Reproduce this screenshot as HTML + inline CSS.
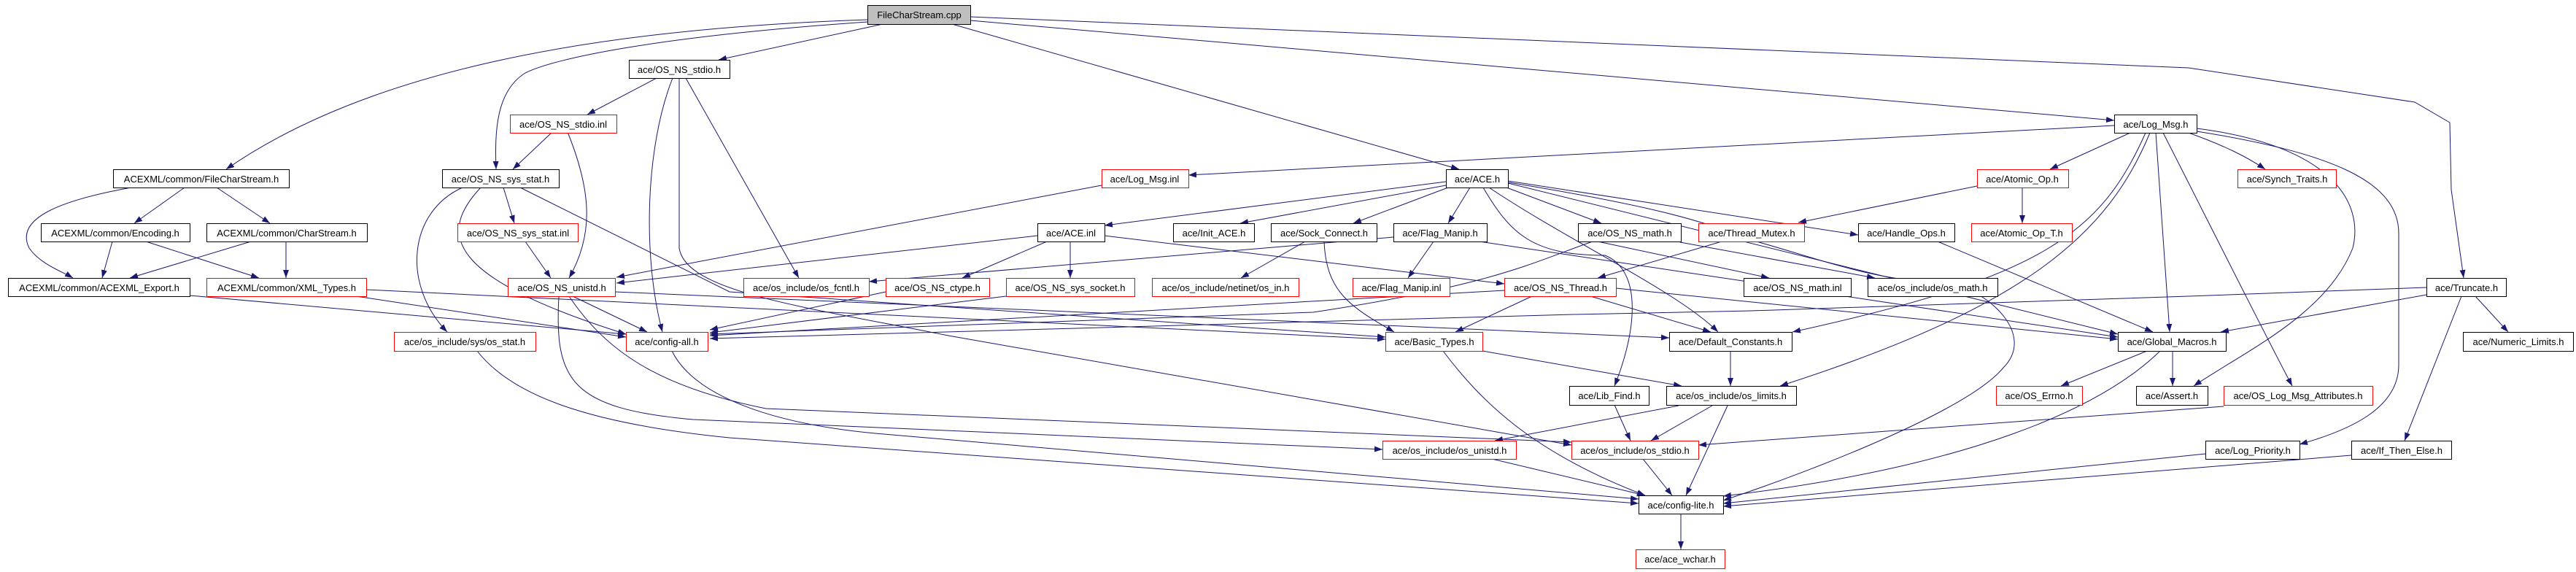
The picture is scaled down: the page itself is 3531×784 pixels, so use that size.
<!DOCTYPE html>
<html><head><meta charset="utf-8"><style>
html,body{margin:0;padding:0;background:#fff;}
svg{display:block;}
text{font-family:"Liberation Sans",sans-serif;font-size:13px;fill:#000;}
</style></head><body>
<svg width="3531" height="784" viewBox="0 0 3531 784" xmlns="http://www.w3.org/2000/svg">
<defs>
<marker id="a" markerUnits="userSpaceOnUse" markerWidth="12" markerHeight="10" refX="11" refY="4" orient="auto">
<path d="M0,0 L11,4 L0,8 z" fill="#191970"/>
</marker>
</defs>
<g fill="none" stroke="#191970" stroke-width="1" marker-end="url(#a)">
<path d="M1189,27 C800,40 500,100 310,232"/>
<path d="M1189,30 C900,50 760,80 720,100 C680,125 678,180 680,232"/>
<path d="M1210,33 L985,82"/>
<path d="M1305,33 L2000,232"/>
<path d="M1330,28 L2898,165"/>
<path d="M1330,23 L3000,93 L3310,140 L3358,168 L3360,260 L3377,381"/>
<path d="M180,257 C80,275 20,300 40,340 C55,362 85,372 100,381"/>
<path d="M253,257 L184,306"/>
<path d="M297,257 L370,306"/>
<path d="M154,331 L140,381"/>
<path d="M200,331 L355,381"/>
<path d="M344,331 L178,381"/>
<path d="M392,331 L392,381"/>
<path d="M502,397 L1899,465"/>
<path d="M260,405 L858,458"/>
<path d="M488,406 L858,462"/>
<path d="M900,107 L805,157"/>
<path d="M922,107 C885,200 880,350 908,455"/>
<path d="M931,107 L931,340 C940,400 1100,420 1300,460 L2154,610"/>
<path d="M940,107 L1095,381"/>
<path d="M757,181 L703,232"/>
<path d="M778,181 C810,260 815,320 780,381"/>
<path d="M690,257 L705,306"/>
<path d="M634,257 C560,290 550,390 613,455"/>
<path d="M659,257 C600,320 610,380 858,458"/>
<path d="M713,257 L1000,400 L1899,462"/>
<path d="M720,331 L755,381"/>
<path d="M1510,254 L845,380"/>
<path d="M1422,323 L845,388"/>
<path d="M785,406 L887,455"/>
<path d="M766,406 C760,520 780,560 950,575 L1895,616"/>
<path d="M780,406 C830,480 900,530 1050,560 L2154,606"/>
<path d="M843,400 L2288,463"/>
<path d="M654,481 C700,540 800,580 1000,600 L2246,690"/>
<path d="M921,481 C950,540 1050,580 1200,594 L2246,684"/>
<path d="M1214,400 L973,452"/>
<path d="M1379,406 L973,456"/>
<path d="M2062,398 L973,460"/>
<path d="M2183,331 C2100,360 2050,390 1800,428 L973,458"/>
<path d="M3326,394 L3000,406 L2400,426 L2156,431 L973,464"/>
<path d="M1982,249 L1514,309"/>
<path d="M1982,254 L1700,306"/>
<path d="M1985,257 L1855,306"/>
<path d="M2015,257 L1985,306"/>
<path d="M2065,257 L2195,306"/>
<path d="M2067,248 L2547,322"/>
<path d="M2067,251 L2903,458"/>
<path d="M2033,257 C2070,320 2100,350 2200,350 C2250,370 2245,450 2213,529"/>
<path d="M2041,257 C2150,330 2300,400 2355,455"/>
<path d="M2068,250 C2250,280 2330,300 2400,329 C2480,350 2580,390 2668,386 C2730,400 2790,460 2746,504 C2700,560 2500,640 2362,686"/>
<path d="M2898,172 L1629,240"/>
<path d="M2920,182 L2810,232"/>
<path d="M3000,182 C3050,200 3080,215 3105,232"/>
<path d="M2955,182 L2974,455"/>
<path d="M2947,182 C2890,320 2780,420 2440,529"/>
<path d="M2941,182 C2880,320 2800,380 2457,455"/>
<path d="M2965,182 C3000,250 3100,450 3142,529"/>
<path d="M3011,176 C3200,200 3240,280 3225,340 C3190,430 3080,480 3007,529"/>
<path d="M3011,180 C3200,210 3288,250 3288,320 L3288,500 C3288,560 3220,590 3152,609"/>
<path d="M2710,255 L2465,305"/>
<path d="M2772,257 L2772,306"/>
<path d="M2360,331 L2190,381"/>
<path d="M1965,331 L1930,381"/>
<path d="M1910,325 L1191,386"/>
<path d="M2028,331 L2903,462"/>
<path d="M1514,323 L2062,389"/>
<path d="M1435,331 L1319,381"/>
<path d="M1467,331 L1467,381"/>
<path d="M1789,331 L1701,381"/>
<path d="M1815,331 C1818,400 1850,420 1911,455"/>
<path d="M2190,331 L2425,381"/>
<path d="M2303,332 L2570,381"/>
<path d="M2656,331 L2951,455"/>
<path d="M2100,406 L1995,455"/>
<path d="M2180,406 L2345,455"/>
<path d="M2215,395 L2903,465"/>
<path d="M3326,404 L3044,455"/>
<path d="M3393,406 L3438,455"/>
<path d="M3374,406 L3296,604"/>
<path d="M1978,481 C2030,550 2100,620 2255,679"/>
<path d="M2032,481 L2305,529"/>
<path d="M2372,481 L2372,529"/>
<path d="M2301,556 L2049,604"/>
<path d="M2347,556 L2263,604"/>
<path d="M2368,556 L2311,679"/>
<path d="M2213,555 L2235,604"/>
<path d="M2252,629 L2292,679"/>
<path d="M2045,629 L2255,679"/>
<path d="M3048,557 L2328,610"/>
<path d="M2943,481 L2825,529"/>
<path d="M2978,481 L2978,529"/>
<path d="M2961,481 C2880,560 2700,640 2362,680"/>
<path d="M3023,622 L2362,690"/>
<path d="M3223,624 L2362,694"/>
<path d="M2304,704 L2304,753"/>
</g>
<g stroke-width="1">
<rect x="1189.5" y="7.5" width="141" height="26" fill="#bfbfbf" stroke="#000"/>
<text x="1260" y="25" text-anchor="middle">FileCharStream.cpp</text>
</g>
<g fill="#fff" stroke-width="1">
<!-- black nodes -->
<g stroke="#000">
<rect x="862.5" y="82.5" width="138" height="25"/>
<rect x="2898.5" y="157.5" width="113" height="25"/>
<rect x="155.5" y="232.5" width="241" height="25"/>
<rect x="606.5" y="232.5" width="160" height="25"/>
<rect x="1982.5" y="232.5" width="85" height="25"/>
<rect x="56.5" y="306.5" width="204" height="25"/>
<rect x="283.5" y="306.5" width="220" height="25"/>
<rect x="1422.5" y="306.5" width="92" height="25"/>
<rect x="1608.5" y="306.5" width="111" height="25"/>
<rect x="1742.5" y="306.5" width="145" height="25"/>
<rect x="1910.5" y="306.5" width="128" height="25"/>
<rect x="2163.5" y="306.5" width="141" height="25"/>
<rect x="2547.5" y="306.5" width="132" height="25"/>
<rect x="11.5" y="381.5" width="249" height="25"/>
<rect x="2390.5" y="381.5" width="147" height="25"/>
<rect x="2560.5" y="381.5" width="178" height="25"/>
<rect x="3326.5" y="381.5" width="109" height="25"/>
<rect x="2288.5" y="455.5" width="168" height="26"/>
<rect x="2903.5" y="455.5" width="148" height="26"/>
<rect x="3376.5" y="455.5" width="151" height="26"/>
<rect x="2151.5" y="529.5" width="109" height="26"/>
<rect x="2284.5" y="529.5" width="178" height="26"/>
<rect x="2928.5" y="529.5" width="98" height="26"/>
<rect x="3023.5" y="604.5" width="129" height="25"/>
<rect x="3223.5" y="604.5" width="137" height="25"/>
<rect x="2246.5" y="679.5" width="116" height="25"/>
</g>
<g stroke="#ff0000">
<rect x="699.5" y="157.5" width="146" height="25"/>
<rect x="1510.5" y="232.5" width="119" height="25"/>
<rect x="2710.5" y="232.5" width="125" height="25"/>
<rect x="3067.5" y="232.5" width="135" height="25"/>
<rect x="627.5" y="306.5" width="165" height="25"/>
<rect x="2328.5" y="306.5" width="145" height="25"/>
<rect x="2702.5" y="306.5" width="138" height="25"/>
<rect x="283.5" y="381.5" width="219" height="25"/>
<rect x="696.5" y="381.5" width="147" height="25"/>
<rect x="1019.5" y="381.5" width="172" height="25"/>
<rect x="1214.5" y="381.5" width="142" height="25"/>
<rect x="1379.5" y="381.5" width="176" height="25"/>
<rect x="1579.5" y="381.5" width="201" height="25"/>
<rect x="1854.5" y="381.5" width="133" height="25"/>
<rect x="2062.5" y="381.5" width="153" height="25"/>
<rect x="540.5" y="455.5" width="194" height="26"/>
<rect x="858.5" y="455.5" width="112" height="26"/>
<rect x="1899.5" y="455.5" width="133" height="26"/>
<rect x="2736.5" y="529.5" width="118" height="26"/>
<rect x="3048.5" y="529.5" width="204" height="26"/>
<rect x="1895.5" y="604.5" width="183" height="25"/>
<rect x="2154.5" y="604.5" width="174" height="25"/>
<rect x="2242.5" y="753.5" width="122" height="26"/>
</g>
</g>
<g text-anchor="middle">
<text x="931" y="100">ace/OS_NS_stdio.h</text>
<text x="772" y="175">ace/OS_NS_stdio.inl</text>
<text x="2955" y="175">ace/Log_Msg.h</text>
<text x="276" y="250">ACEXML/common/FileCharStream.h</text>
<text x="686" y="250">ace/OS_NS_sys_stat.h</text>
<text x="1569" y="250">ace/Log_Msg.inl</text>
<text x="2025" y="250">ace/ACE.h</text>
<text x="2772" y="250">ace/Atomic_Op.h</text>
<text x="3135" y="250">ace/Synch_Traits.h</text>
<text x="158" y="324">ACEXML/common/Encoding.h</text>
<text x="393" y="324">ACEXML/common/CharStream.h</text>
<text x="710" y="324">ace/OS_NS_sys_stat.inl</text>
<text x="1468" y="324">ace/ACE.inl</text>
<text x="1664" y="324">ace/Init_ACE.h</text>
<text x="1815" y="324">ace/Sock_Connect.h</text>
<text x="1974" y="324">ace/Flag_Manip.h</text>
<text x="2234" y="324">ace/OS_NS_math.h</text>
<text x="2401" y="324">ace/Thread_Mutex.h</text>
<text x="2613" y="324">ace/Handle_Ops.h</text>
<text x="2771" y="324">ace/Atomic_Op_T.h</text>
<text x="136" y="399">ACEXML/common/ACEXML_Export.h</text>
<text x="393" y="399">ACEXML/common/XML_Types.h</text>
<text x="770" y="399">ace/OS_NS_unistd.h</text>
<text x="1105" y="399">ace/os_include/os_fcntl.h</text>
<text x="1285" y="399">ace/OS_NS_ctype.h</text>
<text x="1467" y="399">ace/OS_NS_sys_socket.h</text>
<text x="1680" y="399">ace/os_include/netinet/os_in.h</text>
<text x="1921" y="399">ace/Flag_Manip.inl</text>
<text x="2139" y="399">ace/OS_NS_Thread.h</text>
<text x="2464" y="399">ace/OS_NS_math.inl</text>
<text x="2649" y="399">ace/os_include/os_math.h</text>
<text x="3381" y="399">ace/Truncate.h</text>
<text x="637" y="473">ace/os_include/sys/os_stat.h</text>
<text x="914" y="473">ace/config-all.h</text>
<text x="1966" y="473">ace/Basic_Types.h</text>
<text x="2372" y="473">ace/Default_Constants.h</text>
<text x="2977" y="473">ace/Global_Macros.h</text>
<text x="3452" y="473">ace/Numeric_Limits.h</text>
<text x="2206" y="547">ace/Lib_Find.h</text>
<text x="2373" y="547">ace/os_include/os_limits.h</text>
<text x="2795" y="547">ace/OS_Errno.h</text>
<text x="2977" y="547">ace/Assert.h</text>
<text x="3150" y="547">ace/OS_Log_Msg_Attributes.h</text>
<text x="1987" y="622">ace/os_include/os_unistd.h</text>
<text x="2241" y="622">ace/os_include/os_stdio.h</text>
<text x="3088" y="622">ace/Log_Priority.h</text>
<text x="3292" y="622">ace/If_Then_Else.h</text>
<text x="2304" y="697">ace/config-lite.h</text>
<text x="2303" y="771">ace/ace_wchar.h</text>
</g>
</svg>
</body></html>
